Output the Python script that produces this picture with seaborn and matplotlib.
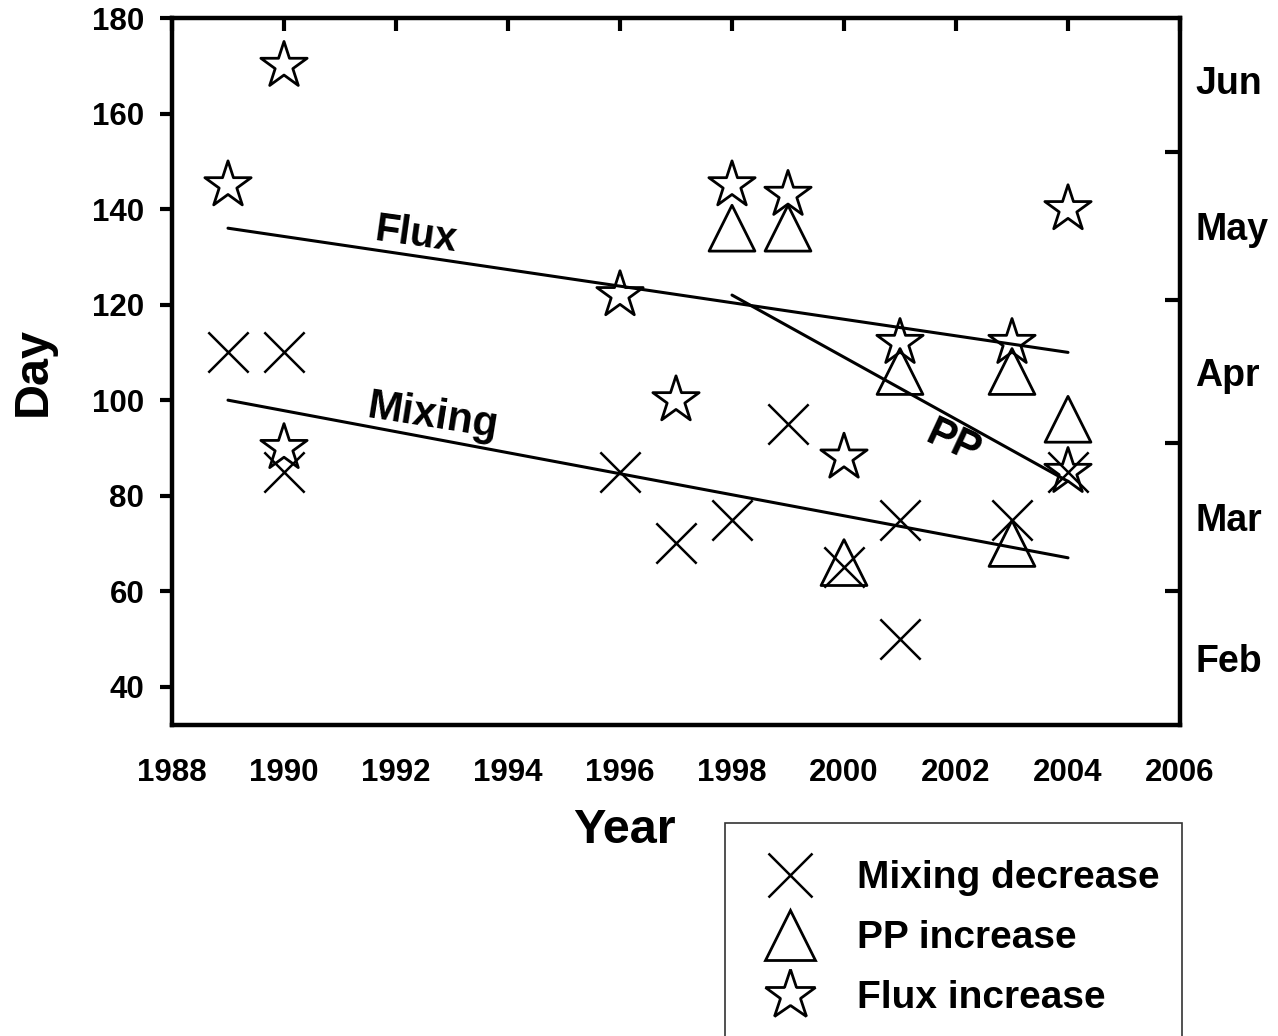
import matplotlib
matplotlib.use("Agg")
import matplotlib.pyplot as plt
from matplotlib.lines import Line2D
from matplotlib.legend_handler import HandlerLine2D
import seaborn as sns
import pandas as pd

# Onset day of year for each indicator
mixing_years = [1989, 1990, 1990, 1996, 1997, 1998, 1999, 2000, 2001, 2001, 2003, 2004]
mixing_days = [110, 110, 85, 85, 70, 75, 95, 65, 75, 50, 75, 85]

pp_years = [1998, 1999, 2000, 2001, 2003, 2003, 2004]
pp_days = [136, 136, 66, 106, 106, 70, 96]

flux_years = [1989, 1990, 1990, 1996, 1997, 1998, 1999, 2000, 2001, 2003, 2004, 2004]
flux_days = [145, 170, 90, 122, 100, 145, 143, 88, 112, 112, 140, 85]

# Trend line end points
flux_trend_years = [1989, 2004]
flux_trend_days = [136, 110]
mixing_trend_years = [1989, 2004]
mixing_trend_days = [100, 67]
pp_trend_years = [1998, 2004]
pp_trend_days = [122, 83]

# Right-hand month axis
month_names = ["Feb", "Mar", "Apr", "May", "Jun"]
month_mid_days = [46, 75.5, 106, 136.5, 167]
month_start_days = [60, 91, 121, 152]

year_ticks = list(range(1988, 2007, 2))
day_ticks = list(range(40, 181, 20))

sns.set_theme(style="white")
plt.rcParams["font.family"] = ["Liberation Sans", "DejaVu Sans"]
plt.rcParams["font.weight"] = "bold"
for key in ["text.color", "axes.labelcolor", "xtick.color", "ytick.color",
            "axes.edgecolor"]:
    plt.rcParams[key] = "black"


class CenteredMarkerHandler(HandlerLine2D):
    """Legend handler that lowers the marker onto the label's mid-line."""

    def create_artists(self, legend, orig_handle, xdescent, ydescent,
                       width, height, fontsize, trans):
        return super().create_artists(legend, orig_handle, xdescent,
                                      ydescent + 11.0, width, height,
                                      fontsize, trans)


fig = plt.figure(figsize=(12.78, 10.36), dpi=100)
ax = fig.add_axes([172 / 1278, 1 - 725 / 1036, (1180 - 172) / 1278, (725 - 18) / 1036])

mix_df = pd.DataFrame({"Year": mixing_years, "Day": mixing_days})
pp_df = pd.DataFrame({"Year": pp_years, "Day": pp_days})
flux_df = pd.DataFrame({"Year": flux_years, "Day": flux_days})

sns.scatterplot(data=mix_df, x="Year", y="Day", marker="x", s=29 ** 2,
                color="black", linewidth=1.8, ax=ax, zorder=3, legend=False)
sns.scatterplot(data=pp_df, x="Year", y="Day", marker="^", s=33 ** 2,
                facecolor="none", edgecolor="black", linewidth=2.0, ax=ax,
                zorder=3, legend=False)
sns.scatterplot(data=flux_df, x="Year", y="Day", marker="*", s=35 ** 2,
                facecolor="none", edgecolor="black", linewidth=2.0, ax=ax,
                zorder=3, legend=False)

for xs, ys in [(flux_trend_years, flux_trend_days),
               (mixing_trend_years, mixing_trend_days),
               (pp_trend_years, pp_trend_days)]:
    sns.lineplot(x=xs, y=ys, color="black", linewidth=2.2, estimator=None,
                 sort=False, ax=ax, zorder=2)

ax.text(1992.35, 134.5, "Flux", fontsize=29, fontweight="bold", rotation=-8,
        ha="center", va="center")
ax.text(1992.65, 96.5, "Mixing", fontsize=30, fontweight="bold", rotation=-9,
        ha="center", va="center")
ax.text(2001.95, 91.0, "PP", fontsize=30, fontweight="bold", rotation=-25,
        ha="center", va="center")

ax.set_xlim(1988, 2006)
ax.set_ylim(32, 180)
ax.set_xticks(year_ticks)
ax.set_yticks(day_ticks)
ax.set_xticklabels([str(y) for y in year_ticks])
ax.set_yticklabels([str(d) for d in day_ticks])
ax.tick_params(axis="both", labelsize=22.5, width=3, length=9, color="black",
               direction="out")
ax.tick_params(axis="x", pad=15)
ax.tick_params(axis="y", pad=11)
ax.set_xlabel("Year", fontsize=35, fontweight="bold", labelpad=14)
ax.xaxis.label.set_x(0.449)
ax.set_ylabel("Day", fontsize=35, fontweight="bold", labelpad=26)

for sp in ax.spines.values():
    sp.set_visible(True)
    sp.set_color("black")
    sp.set_linewidth(3.2)

# Month axis on the right
ax2 = ax.twinx()
ax2.set_ylim(ax.get_ylim())
ax2.set_yticks(month_mid_days)
ax2.set_yticklabels(month_names)
ax2.set_yticks(month_start_days, minor=True)
ax2.tick_params(axis="y", which="major", length=0, labelsize=27, pad=11)
ax2.tick_params(axis="y", which="minor", length=11, width=3, direction="in",
                color="black")
for sp in ax2.spines.values():
    sp.set_visible(False)

# Top ticks point inward, bottom ticks outward
secx = ax.secondary_xaxis("top")
secx.set_xticks(year_ticks)
secx.tick_params(axis="x", direction="in", length=9, width=3, labeltop=False,
                 color="black")
secx.spines["top"].set_visible(False)
ax.tick_params(axis="x", top=False)

for t in ax.get_xticklabels() + ax.get_yticklabels() + ax2.get_yticklabels():
    t.set_fontweight("bold")

handles = [
    Line2D([], [], marker="x", linestyle="none", color="black", markersize=31,
           markeredgewidth=1.8),
    Line2D([], [], marker="^", linestyle="none", markerfacecolor="none",
           markeredgecolor="black", markersize=36, markeredgewidth=2.0),
    Line2D([], [], marker="*", linestyle="none", markerfacecolor="none",
           markeredgecolor="black", markersize=38, markeredgewidth=2.0),
]
labels = ["Mixing decrease", "PP increase", "Flux increase"]
leg = fig.legend(handles, labels, loc="upper left",
                 bbox_to_anchor=(725 / 1278, 1 - 823 / 1036),
                 bbox_transform=fig.transFigure, borderaxespad=0,
                 prop={"size": 28, "weight": "bold"}, frameon=True,
                 fancybox=False, edgecolor="black", borderpad=0.59,
                 handlelength=2.16, handleheight=2.0, handletextpad=0.64,
                 labelspacing=0.0,
                 handler_map={Line2D: CenteredMarkerHandler()})
leg.get_frame().set_linewidth(1.2)

fig.savefig("out.png", dpi=100)
